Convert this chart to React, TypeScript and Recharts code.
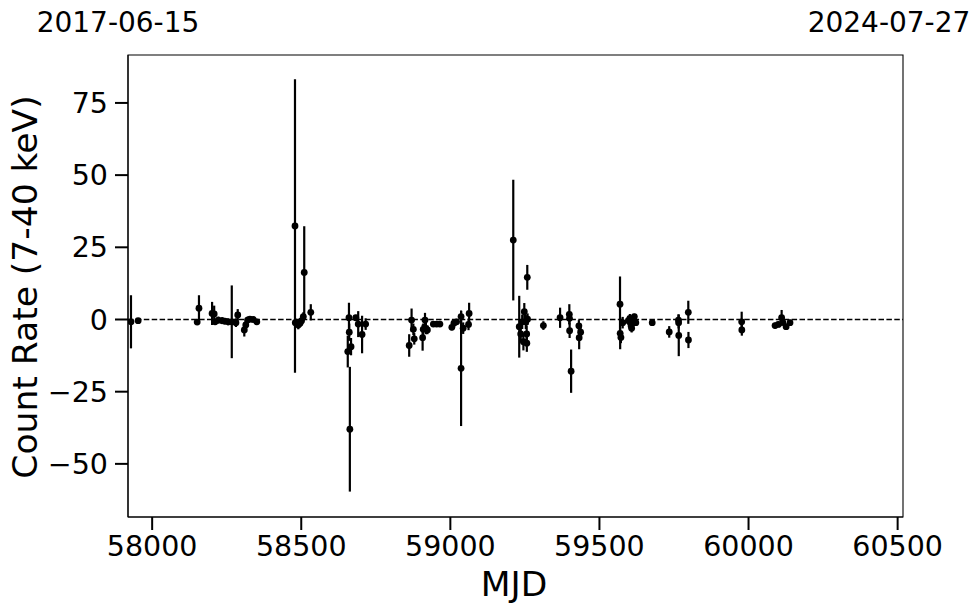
import React from "react";
import {
  ComposedChart,
  Scatter,
  XAxis,
  YAxis,
  ErrorBar,
  ReferenceLine,
  ReferenceArea,
} from "recharts";

const mjd = [
  57929, 57953, 58151, 58157, 58201, 58208, 58211, 58222, 58235, 58244,
  58255, 58267, 58281, 58287, 58309, 58314, 58320, 58328, 58339, 58351,
  58479, 58480, 58490, 58496, 58501, 58507, 58510, 58532, 58656, 58660,
  58661, 58663, 58667, 58683, 58691, 58704, 58716, 58862, 58870, 58876,
  58879, 58907, 58909, 58915, 58918, 58923, 58943, 58954, 58965, 59005,
  59012, 59021, 59036, 59036, 59043, 59063, 59061, 59211, 59231, 59236,
  59241, 59245, 59248, 59253, 59256, 59256.5, 59259, 59258, 59312, 59368,
  59399, 59399.5, 59400, 59405, 59431, 59437, 59432, 59569, 59569.5, 59572,
  59578, 59597, 59602, 59606, 59610, 59614, 59617, 59622, 59608, 59677,
  59734, 59765, 59765.5, 59766, 59798, 59798.5, 59977, 59977.5, 60089, 60100,
  60111, 60115, 60126, 60139,
];

const rate = [
  -0.8, -0.4, -0.9, 3.9, 2.1, 1.9, -0.8, -0.2, -0.4, -0.6,
  -0.8, -0.8, -1.1, 1.6, -3.6, -1.9, -0.2, 0.1, 0.0, -0.8,
  32.4, -1.1, -1.9, -1.3, -0.4, 1.0, 16.3, 2.5, -11.1, 0.6,
  -4.4, -38.0, -9.4, 0.6, -1.6, -5.2, -1.6, -9.0, -0.2, -3.4,
  -6.7, -6.3, -3.4, -0.2, -3.1, -3.6, -1.6, -1.6, -1.6, -2.7,
  -1.3, -0.8, -16.9, 1.0, -3.0, 2.1, -1.7, 27.5, -2.5, -5.0,
  -0.8, -7.7, 2.7, -0.8, -5.0, -8.2, 0.1, 14.6, -2.1, 0.6,
  1.8, 0.4, -3.9, -17.9, -2.2, -4.4, -6.3, 5.3, -4.8, -6.2,
  -1.1, -0.4, 0.4, -2.2, -1.3, -0.2, 1.0, -1.1, -3.0, -1.1,
  -4.3, -0.2, -1.1, -5.5, 2.5, -7.1, -0.8, -3.6, -2.1, -1.7,
  0.6, -1.0, -2.5, -1.1,
];

const rateErr = [
  9.2, 0.8, 1.0, 4.5, 4.0, 2.9, 1.0, 1.2, 1.2, 1.0,
  1.2, 12.6, 1.5, 2.0, 2.3, 1.5, 1.2, 1.0, 0.8, 0.8,
  50.8, 1.5, 1.5, 1.2, 1.2, 1.5, 16.0, 2.8, 5.5, 5.2,
  3.0, 21.6, 3.0, 1.0, 4.5, 6.5, 2.0, 3.9, 4.0, 2.0,
  2.0, 4.5, 2.0, 2.5, 2.0, 1.5, 0.8, 0.8, 0.8, 1.0,
  1.0, 1.0, 20.0, 2.0, 2.0, 3.7, 2.0, 20.9, 10.7, 3.0,
  2.5, 3.0, 3.0, 2.5, 3.0, 3.0, 2.0, 4.3, 1.5, 3.5,
  3.5, 2.0, 2.5, 7.5, 2.0, 2.0, 4.0, 9.6, 5.5, 2.0,
  2.0, 1.5, 1.5, 1.5, 1.5, 1.5, 1.0, 1.0, 1.5, 0.8,
  2.0, 2.0, 2.0, 7.2, 4.0, 2.8, 3.5, 2.0, 1.0, 1.0,
  2.7, 1.0, 1.0, 1.0,
];

const xTicks = [58000, 58500, 59000, 59500, 60000, 60500];
const yTicks = [-50, -25, 0, 25, 50, 75];
const xDomain = [57919, 60518];
const yDomain = [-68.4, 91.6];
const startDate = "2017-06-15";
const endDate = "2024-07-27";
const xLabel = "MJD";
const yLabel = "Count Rate (7-40 keV)";

const data = mjd.map((m, i) => ({ mjd: m, rate: rate[i], err: rateErr[i] }));

const FONT = "DejaVu Sans";

const Dot = (props: any) => {
  const { cx, cy } = props;
  if (cx == null || cy == null) return null;
  return <circle cx={cx} cy={cy} r={3.4} fill="#000" />;
};

export default function App() {
  return (
    <div style={{ position: "absolute", left: 0, top: 0, width: 980, height: 613, background: "#fff" }}>
      <ComposedChart
        width={980}
        height={613}
        data={data}
        margin={{ top: 55, right: 77, bottom: 0, left: 0 }}
      >
        <XAxis
          dataKey="mjd"
          type="number"
          domain={xDomain}
          ticks={xTicks}
          interval={0}
          allowDataOverflow
          height={96}
          tickSize={13}
          tickMargin={6}
          axisLine={{ stroke: "#000", strokeWidth: 1.1 }}
          tickLine={{ stroke: "#000", strokeWidth: 2 }}
          tick={{ fill: "#000", fontSize: 28.5, fontFamily: FONT }}
        />
        <YAxis
          dataKey="rate"
          type="number"
          domain={yDomain}
          ticks={yTicks}
          interval={0}
          allowDataOverflow
          width={128}
          tickSize={13}
          tickMargin={7}
          axisLine={{ stroke: "#000", strokeWidth: 1.1 }}
          tickLine={{ stroke: "#000", strokeWidth: 2 }}
          tick={{ fill: "#000", fontSize: 28.5, fontFamily: FONT }}
          tickFormatter={(v: number) => (v < 0 ? "\u2212" + Math.abs(v) : String(v))}
        />
        <ReferenceArea
          x1={xDomain[0]}
          x2={xDomain[1]}
          y1={yDomain[0]}
          y2={yDomain[1]}
          fill="none"
          stroke="#000"
          strokeWidth={1.1}
          fillOpacity={0}
        />
        <ReferenceLine y={0} stroke="#000" strokeWidth={1.5} strokeDasharray="5.5 2.4" />
        <Scatter data={data} dataKey="rate" shape={Dot} isAnimationActive={false}>
          <ErrorBar dataKey="err" direction="y" width={0} stroke="#000" strokeWidth={2.2} />
        </Scatter>
      </ComposedChart>
      <svg
        width={980}
        height={613}
        style={{ position: "absolute", left: 0, top: 0, pointerEvents: "none" }}
      >
        <text x={118} y={32} textAnchor="middle" fontSize={28} fontFamily={FONT} fill="#000">
          {startDate}
        </text>
        <text x={889} y={32} textAnchor="middle" fontSize={28} fontFamily={FONT} fill="#000">
          {endDate}
        </text>
        <text x={514} y={596} textAnchor="middle" fontSize={34.5} fontFamily={FONT} fill="#000">
          {xLabel}
        </text>
        <text
          x={0}
          y={0}
          textAnchor="middle"
          fontSize={34.5}
          fontFamily={FONT}
          fill="#000"
          transform="translate(37,287) rotate(-90)"
        >
          {yLabel}
        </text>
      </svg>
    </div>
  );
}
